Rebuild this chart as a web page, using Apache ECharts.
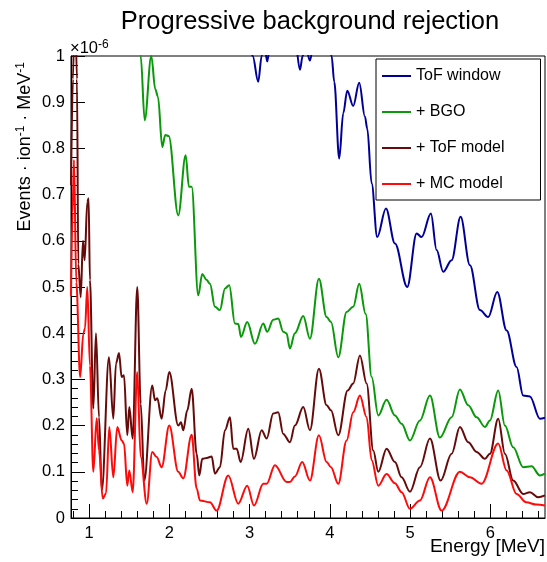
<!DOCTYPE html>
<html>
<head>
<meta charset="utf-8">
<script src="https://cdn.jsdelivr.net/npm/echarts@6/dist/echarts.min.js"></script>
<style>html,body{margin:0;padding:0;background:#fff}#c{width:547px;height:562px}</style>
</head>
<body>
<div id="c"></div>
<script>
// ---- data (energy in MeV, values in units of 1e-6 events/ion/MeV) ----
const seriesNames = ['ToF window', '+ BGO', '+ ToF model', '+ MC model'];
const seriesColors = ['#000099', '#0a990a', '#660a0a', '#ff0a0a'];

const tofWindowE = [0.776, 1.5, 2.5, 2.95, 3.039, 3.108, 3.151, 3.18, 3.22, 3.26, 3.4, 3.57, 3.628, 3.661, 3.70, 3.752, 3.8, 3.95, 4.022, 4.055, 4.117, 4.167, 4.217, 4.291, 4.366, 4.437, 4.466, 4.521, 4.59, 4.699, 4.811, 4.964, 5.081, 5.143, 5.259, 5.330, 5.412, 5.517, 5.629, 5.745, 5.869, 5.973, 6.085, 6.202, 6.326, 6.408, 6.492, 6.616, 6.679];
const tofWindowV = [2.5, 2.0, 1.4, 1.1, 1.0, 0.944, 1.0, 1.03, 0.988, 1.03, 1.08, 1.03, 0.97, 1.0, 1.02, 0.99, 1.03, 1.06, 1.0, 0.944, 0.778, 0.876, 0.925, 0.892, 0.942, 0.869, 0.843, 0.724, 0.608, 0.67, 0.594, 0.50, 0.616, 0.608, 0.659, 0.58, 0.533, 0.558, 0.652, 0.547, 0.45, 0.435, 0.489, 0.406, 0.327, 0.265, 0.263, 0.215, 0.217];

const bgoE = [0.776, 1.2, 1.60, 1.644, 1.694, 1.776, 1.826, 1.859, 1.913, 1.950, 1.993, 2.112, 2.204, 2.245, 2.279, 2.361, 2.411, 2.466, 2.507, 2.569, 2.631, 2.694, 2.747, 2.818, 2.86, 2.893, 2.971, 3.067, 3.171, 3.220, 3.295, 3.357, 3.420, 3.46, 3.503, 3.565, 3.669, 3.752, 3.864, 3.960, 4.014, 4.105, 4.209, 4.291, 4.366, 4.446, 4.521, 4.603, 4.707, 4.811, 4.894, 4.998, 5.122, 5.247, 5.371, 5.517, 5.620, 5.724, 5.828, 5.932, 5.994, 6.097, 6.181, 6.284, 6.408, 6.513, 6.616, 6.679];
const bgoV = [1.8, 1.5, 1.15, 1.0, 0.861, 1.0, 0.928, 0.912, 0.803, 0.829, 0.827, 0.655, 0.785, 0.717, 0.717, 0.482, 0.528, 0.515, 0.507, 0.457, 0.45, 0.497, 0.504, 0.421, 0.42, 0.392, 0.424, 0.377, 0.421, 0.403, 0.429, 0.432, 0.403, 0.40, 0.367, 0.40, 0.437, 0.388, 0.518, 0.435, 0.424, 0.348, 0.446, 0.457, 0.507, 0.442, 0.305, 0.222, 0.256, 0.222, 0.204, 0.168, 0.211, 0.265, 0.174, 0.218, 0.278, 0.244, 0.218, 0.197, 0.211, 0.276, 0.20, 0.153, 0.11, 0.112, 0.092, 0.096];

const tofModelE = [0.776, 0.80, 0.825, 0.85, 0.867, 0.897, 0.925, 0.946, 0.979, 0.995, 1.012, 1.054, 1.087, 1.125, 1.16, 1.249, 1.303, 1.336, 1.374, 1.407, 1.436, 1.477, 1.502, 1.544, 1.601, 1.644, 1.689, 1.788, 1.822, 1.851, 1.905, 1.955, 2.0, 2.112, 2.146, 2.174, 2.224, 2.279, 2.341, 2.374, 2.411, 2.466, 2.528, 2.569, 2.631, 2.694, 2.756, 2.797, 2.84, 2.889, 2.984, 3.055, 3.151, 3.213, 3.295, 3.357, 3.420, 3.503, 3.565, 3.669, 3.752, 3.864, 3.960, 4.014, 4.105, 4.222, 4.291, 4.375, 4.458, 4.541, 4.603, 4.707, 4.811, 4.894, 4.998, 5.122, 5.247, 5.380, 5.517, 5.620, 5.724, 5.828, 5.932, 5.994, 6.097, 6.181, 6.284, 6.408, 6.492, 6.595, 6.679];
const tofModelV = [0.72, 0.95, 1.15, 0.95, 0.55, 0.478, 0.60, 0.558, 0.684, 0.692, 0.515, 0.237, 0.40, 0.218, 0.06, 0.348, 0.215, 0.334, 0.357, 0.305, 0.309, 0.179, 0.24, 0.172, 0.50, 0.248, 0.081, 0.287, 0.255, 0.259, 0.215, 0.276, 0.316, 0.20, 0.207, 0.19, 0.233, 0.28, 0.139, 0.092, 0.128, 0.13, 0.133, 0.096, 0.11, 0.19, 0.218, 0.15, 0.15, 0.121, 0.193, 0.128, 0.19, 0.172, 0.226, 0.229, 0.182, 0.164, 0.20, 0.24, 0.19, 0.323, 0.244, 0.233, 0.179, 0.276, 0.291, 0.352, 0.291, 0.146, 0.10, 0.15, 0.121, 0.088, 0.057, 0.11, 0.172, 0.081, 0.139, 0.197, 0.164, 0.143, 0.128, 0.139, 0.215, 0.139, 0.081, 0.052, 0.056, 0.045, 0.049];

const mcModelE = [0.776, 0.795, 0.813, 0.842, 0.89, 0.93, 0.95, 0.979, 1.012, 1.054, 1.096, 1.125, 1.171, 1.212, 1.253, 1.303, 1.352, 1.407, 1.436, 1.477, 1.502, 1.544, 1.601, 1.644, 1.719, 1.788, 1.843, 1.905, 2.0, 2.112, 2.174, 2.279, 2.341, 2.382, 2.507, 2.590, 2.735, 2.859, 2.971, 3.055, 3.171, 3.213, 3.316, 3.462, 3.503, 3.565, 3.656, 3.752, 3.864, 3.960, 4.014, 4.105, 4.209, 4.291, 4.375, 4.458, 4.521, 4.603, 4.707, 4.811, 4.894, 4.998, 5.122, 5.247, 5.392, 5.620, 5.745, 5.890, 6.097, 6.202, 6.326, 6.446, 6.575, 6.679];
const mcModelV = [0.48, 0.66, 0.775, 0.51, 0.305, 0.40, 0.41, 0.50, 0.33, 0.10, 0.216, 0.146, 0.042, 0.053, 0.197, 0.088, 0.197, 0.168, 0.161, 0.07, 0.103, 0.056, 0.316, 0.132, 0.031, 0.143, 0.132, 0.11, 0.20, 0.10, 0.086, 0.18, 0.064, 0.038, 0.034, 0.016, 0.092, 0.031, 0.07, 0.027, 0.074, 0.074, 0.114, 0.078, 0.078, 0.09, 0.121, 0.081, 0.179, 0.121, 0.11, 0.074, 0.168, 0.229, 0.265, 0.218, 0.125, 0.070, 0.095, 0.075, 0.056, 0.02, 0.038, 0.088, 0.016, 0.10, 0.088, 0.074, 0.161, 0.103, 0.052, 0.034, 0.029, 0.027];

const xTickLabels = [1, 2, 3, 4, 5, 6];
const yTickLabels = [0, 0.1, 0.2, 0.3, 0.4, 0.5, 0.6, 0.7, 0.8, 0.9, 1];

// ---- chart ----
const FONT = '"Liberation Sans", Arial, Helvetica, sans-serif';
const xMin = 0.776, xMax = 6.68;
const minorX = [];
for (let t = Math.ceil(xMin * 5); t <= Math.floor(xMax * 5); t++) if (t % 5) minorX.push(t / 5);

const energies = [tofWindowE, bgoE, tofModelE, mcModelE];
const values = [tofWindowV, bgoV, tofModelV, mcModelV];

const series = seriesNames.map((name, k) => ({
  name: name,
  type: 'line',
  data: energies[k].map((e, i) => [e, values[k][i]]),
  smooth: 0.35,
  smoothMonotone: 'x',
  symbol: 'none',
  clip: true,
  lineStyle: { width: 2, color: seriesColors[k] },
  itemStyle: { color: seriesColors[k] },
  z: 2 + k
}));

const chart = echarts.init(document.getElementById('c'), null, { renderer: 'canvas' });
chart.setOption({
  animation: false,
  backgroundColor: '#fff',
  title: {
    text: 'Progressive background rejection',
    left: 305, top: 4, textAlign: 'center',
    textStyle: { fontFamily: FONT, fontSize: 25.5, fontWeight: 'normal', color: '#000' }
  },
  grid: { left: 71, right: 2, top: 56, bottom: 44, show: true, borderColor: '#000', borderWidth: 1, backgroundColor: 'transparent' },
  legend: {
    orient: 'vertical', left: 376, top: 59,
    data: seriesNames, icon: 'rect', itemWidth: 29, itemHeight: 2, itemGap: 20,
    padding: [9, 36, 8, 6], borderColor: '#000', borderWidth: 1, backgroundColor: '#fff',
    textStyle: { fontFamily: FONT, fontSize: 16, lineHeight: 16, color: '#000' }
  },
  xAxis: [{
    type: 'value', min: xMin, max: xMax,
    axisLine: { show: true, lineStyle: { color: '#000', width: 1 } },
    axisTick: { show: true, inside: true, length: 14, customValues: xTickLabels, lineStyle: { color: '#000' } },
    axisLabel: { customValues: xTickLabels, margin: 7, fontFamily: FONT, fontSize: 16.5, color: '#000' },
    splitLine: { show: false }
  }, {
    type: 'value', min: xMin, max: xMax, position: 'bottom',
    axisLine: { show: false },
    axisTick: { show: true, inside: true, length: 7, customValues: minorX, lineStyle: { color: '#000' } },
    axisLabel: { show: false },
    splitLine: { show: false }
  }],
  yAxis: {
    type: 'value', min: 0, max: 1, interval: 0.1,
    axisLine: { show: true, lineStyle: { color: '#000', width: 1 } },
    axisTick: { show: true, inside: true, length: 14, lineStyle: { color: '#000' } },
    minorTick: { show: true, splitNumber: 5, length: 7, lineStyle: { color: '#000' } },
    axisLabel: {
      margin: 6, fontFamily: FONT, fontSize: 16.5, color: '#000',
      formatter: v => {
        const idx = yTickLabels.findIndex(t => Math.abs(t - v) < 1e-9);
        return idx >= 0 ? String(yTickLabels[idx]) : '';
      }
    },
    splitLine: { show: false }
  },
  graphic: [
    {
      type: 'text', x: 25, y: 62, rotation: Math.PI / 2, z: 10,
      style: {
        text: 'Events · ion{sup|-1} · MeV{sup|-1}',
        fontFamily: FONT, fontSize: 18, lineHeight: 20, fill: '#000',
        align: 'right', verticalAlign: 'middle',
        rich: { sup: { fontFamily: FONT, fontSize: 12, lineHeight: 12, verticalAlign: 'top', fill: '#000' } }
      }
    },
    {
      type: 'text', x: 70, y: 48, z: 10,
      style: {
        text: '×10{sup|-6}',
        fontFamily: FONT, fontSize: 16.5, lineHeight: 18, fill: '#000',
        align: 'left', verticalAlign: 'middle',
        rich: { sup: { fontFamily: FONT, fontSize: 12, lineHeight: 12, verticalAlign: 'top', fill: '#000' } }
      }
    },
    {
      type: 'text', x: 545, y: 547, z: 10,
      style: {
        text: 'Energy [MeV]', fontFamily: FONT, fontSize: 19, fill: '#000',
        align: 'right', verticalAlign: 'middle'
      }
    }
  ],
  series: series
});
</script>
</body>
</html>
